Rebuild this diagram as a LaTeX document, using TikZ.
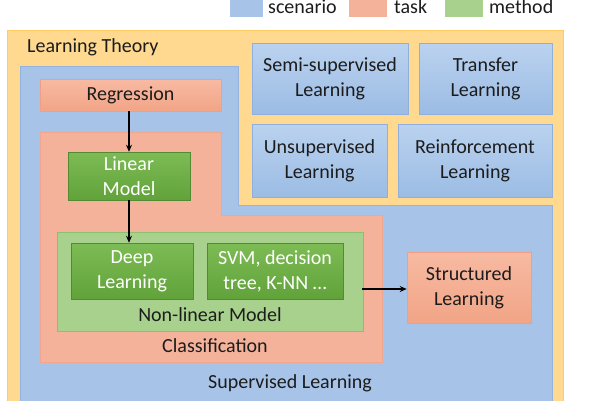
\documentclass[tikz,border=0pt]{standalone}
\usepackage{fontspec}
\setmainfont{Carlito}
\usetikzlibrary{arrows.meta}
\definecolor{yel}{HTML}{FFD98F}
\definecolor{yelb}{HTML}{FFCB62}
\definecolor{bluer}{HTML}{A7C4E8}
\definecolor{blueb}{HTML}{8FB0DC}
\definecolor{bluetop}{HTML}{BAD2EF}
\definecolor{bluebot}{HTML}{9CBCE4}
\definecolor{pinkr}{HTML}{F4B29B}
\definecolor{pinkb}{HTML}{EE9F85}
\definecolor{pinktop}{HTML}{F7BAA2}
\definecolor{pinkbot}{HTML}{F2A486}
\definecolor{greenr}{HTML}{A9D18E}
\definecolor{greenb}{HTML}{8CBF6E}
\definecolor{greentop}{HTML}{7DBC55}
\definecolor{greenbot}{HTML}{62A23B}
\definecolor{txt}{HTML}{1C1C1C}
\tikzset{
  lab/.style={font=\fontsize{20}{25}\selectfont, text=txt, align=center, inner sep=0pt},
  scen/.style={lab, draw=blueb, line width=0.6pt, top color=bluetop, bottom color=bluebot},
  taskbox/.style={lab, draw=pinkb, line width=0.6pt, top color=pinktop, bottom color=pinkbot},
  meth/.style={lab, text=white, draw=greenbot!85!black, line width=0.5pt, top color=greentop, bottom color=greenbot},
  arr/.style={-{Stealth[length=7pt,width=6pt]}, line width=1.6pt, black},
}
\begin{document}
\begin{tikzpicture}[x=1pt,y=-1pt]
\useasboundingbox (0,0) rectangle (600,400);
\fill[white] (0,0) rectangle (600,400);
% legend
\fill[bluer] (230,-6) rectangle (263,17);
\node[lab, anchor=base west] (lscen) at (268,13.5) {scenario};
\fill[pinkr] (349,-6) rectangle (387,17);
\node[lab, anchor=base west] (ltask) at (394,13.5) {task};
\fill[greenr] (445,-6) rectangle (483,17);
\node[lab, anchor=base west] (lmeth) at (489,13.5) {method};
% learning theory
\draw[fill=yel, draw=yelb, line width=0.8pt] (7,30) rectangle (563,410);
\node[lab, anchor=west] (lt) at (27,47) {Learning Theory};
% supervised region
\draw[fill=bluer, draw=blueb!80!bluer, line width=0.5pt] (20,66) -- (238,66) -- (238,205) -- (552,205) -- (552,410) -- (20,410) -- cycle;
\node[lab] (sup) at (290,383) {Supervised Learning};
% classification region
\draw[fill=pinkr, draw=pinkb!60!pinkr, line width=0.5pt] (40,132) -- (221,132) -- (221,215) -- (382,215) -- (382,362) -- (40,362) -- cycle;
\node[lab] (cls) at (215,346) {Classification};
% nonlinear region
\node[draw=greenb, fill=greenr, line width=0.5pt, minimum width=306pt, minimum height=99pt, inner sep=0pt] (nl) at (210,281.5) {};
\node[lab] (nltext) at (210,315) {Non-linear Model};
% boxes
\node[taskbox, minimum width=181pt, minimum height=32pt] (reg) at (130.5,95) {Regression};
\node[meth, minimum width=122pt, minimum height=48pt] (lin) at (129,176) {Linear\\Model};
\node[meth, minimum width=122pt, minimum height=56pt] (deep) at (132,271) {Deep\\Learning};
\node[meth, minimum width=136pt, minimum height=56pt] (svm) at (275,271) {SVM, decision\\tree, K-NN …};
\node[taskbox, minimum width=124pt, minimum height=71pt] (sl) at (469,287.5) {Structured\\Learning};
\node[scen, minimum width=156pt, minimum height=71pt] (semi) at (330,78.5) {Semi-supervised\\Learning};
\node[scen, minimum width=133pt, minimum height=71pt] (tra) at (485.5,78.5) {Transfer\\Learning};
\node[scen, minimum width=135pt, minimum height=73pt] (uns) at (319.5,160.5) {Unsupervised\\Learning};
\node[scen, minimum width=154pt, minimum height=73pt] (rein) at (475,160.5) {Reinforcement\\Learning};
% arrows
\coordinate (a3) at (362,289);
\draw[arr] (lin.north |- reg.south) -- (lin.north);
\draw[arr] (lin.south) -- (lin.south |- deep.north);
\draw[arr] (a3) -- (sl.west |- a3);
\end{tikzpicture}
\end{document}
